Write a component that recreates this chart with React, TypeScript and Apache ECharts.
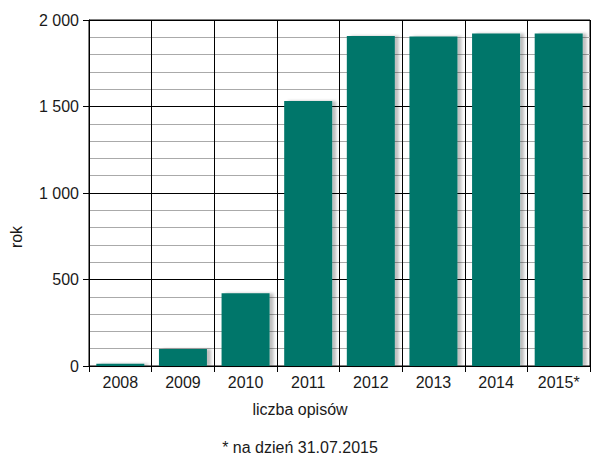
import React, { useEffect, useRef } from 'react';
import * as echarts from 'echarts';

const years = ['2008', '2009', '2010', '2011', '2012', '2013', '2014', '2015*'];
const counts = [13, 98, 420, 1532, 1907, 1905, 1922, 1922];
const yMax = 2000;
const yStep = 500;

const formatThousands = (v: number) => String(v).replace(/\B(?=(\d{3})+(?!\d))/g, ' ');

const App: React.FC = () => {
  const chartRef = useRef<HTMLDivElement>(null);

  useEffect(() => {
    if (!chartRef.current) return;
    const chart = echarts.init(chartRef.current, undefined, { renderer: 'svg' });
    const font = 'Liberation Sans, Arial, sans-serif';

    chart.setOption({
      animation: false,
      backgroundColor: '#ffffff',
      textStyle: { fontFamily: font },
      grid: {
        left: 89,
        right: 10,
        top: 20,
        bottom: 97,
        show: true,
        borderColor: '#000000',
        borderWidth: 1
      },
      xAxis: {
        type: 'category',
        data: years,
        axisLine: { lineStyle: { color: '#000000', width: 1 } },
        axisTick: { show: true, length: 6, inside: false, lineStyle: { color: '#000000' } },
        axisLabel: { color: '#1a1a1a', fontSize: 16, margin: 8, fontFamily: font },
        splitLine: { show: true, lineStyle: { color: '#000000', width: 1 } }
      },
      yAxis: {
        type: 'value',
        min: 0,
        max: yMax,
        interval: yStep,
        axisLine: { show: true, lineStyle: { color: '#000000', width: 1 } },
        axisTick: { show: true, length: 6, lineStyle: { color: '#000000' } },
        axisLabel: {
          color: '#1a1a1a',
          fontSize: 16,
          margin: 10,
          fontFamily: font,
          formatter: (v: number) => formatThousands(v)
        },
        splitLine: { show: true, lineStyle: { color: '#000000', width: 1 } },
        minorTick: { show: false, splitNumber: 5 },
        minorSplitLine: { show: true, lineStyle: { color: '#aaaaaa', width: 1 } }
      },
      series: [
        {
          type: 'bar',
          data: counts,
          barWidth: 48,
          itemStyle: {
            color: '#00766a',
            shadowColor: 'rgba(0, 0, 0, 0.25)',
            shadowBlur: 3,
            shadowOffsetX: 4,
            shadowOffsetY: 0
          }
        }
      ],
      graphic: [
        {
          type: 'text',
          x: 16,
          y: 237,
          rotation: Math.PI / 2,
          style: {
            text: 'rok',
            fontSize: 16,
            fontFamily: font,
            fill: '#1a1a1a',
            align: 'center',
            verticalAlign: 'middle'
          }
        },
        {
          type: 'text',
          x: 300,
          y: 409,
          style: {
            text: 'liczba opisów',
            fontSize: 16,
            fontFamily: font,
            fill: '#1a1a1a',
            align: 'center',
            verticalAlign: 'middle'
          }
        },
        {
          type: 'text',
          x: 300,
          y: 447,
          style: {
            text: '* na dzień 31.07.2015',
            fontSize: 16,
            fontFamily: font,
            fill: '#1a1a1a',
            align: 'center',
            verticalAlign: 'middle'
          }
        }
      ]
    });

    return () => {
      chart.dispose();
    };
  }, []);

  return (
    <div
      ref={chartRef}
      style={{ position: 'fixed', left: 0, top: 0, width: 600, height: 463 }}
    />
  );
};

export default App;
